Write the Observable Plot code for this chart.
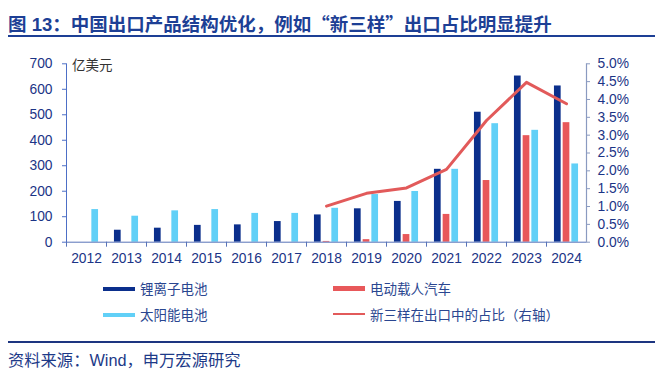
<!DOCTYPE html>
<html>
<head>
<meta charset="utf-8">
<script src="https://cdn.jsdelivr.net/npm/d3@7"></script>
<script src="https://cdn.jsdelivr.net/npm/@observablehq/plot@0.6"></script>
<style>
  html, body { margin: 0; padding: 0; background: #fff; }
  #wrap { position: relative; width: 660px; height: 385px; overflow: hidden; background: #fff;
          font-family: "Liberation Sans", "Noto Sans CJK SC", sans-serif; }
  #title { position: absolute; left: 8px; top: 12px; font-size: 18.5px; line-height: 22px; font-weight: bold;
           color: #1d3f95; font-family: "Liberation Sans", "Noto Sans CJK SC", sans-serif; white-space: nowrap; }
  #title .q { font-family: "Noto Sans CJK SC", sans-serif; }
  #rule1 { position: absolute; left: 8px; top: 35px; width: 647px; height: 2px; background: #1d3f95; }
  #rule2 { position: absolute; left: 8px; top: 341px; width: 647px; height: 1.5px; background: #1d3580; }
  #caption { position: absolute; left: 8px; top: 350px; font-size: 16.3px; line-height: 20px; color: #1d3a88; white-space: nowrap; }
  #chart { position: absolute; left: 0; top: 44px; }
  #unit { position: absolute; left: 72px; top: 55px; font-size: 13.5px; line-height: 18px; color: #333; font-family: "Noto Sans CJK SC", sans-serif; }
  .lg { position: absolute; font-size: 13.5px; line-height: 18px; color: #2a4690; font-family: "Noto Sans CJK SC", sans-serif; white-space: nowrap; }
  .sw { position: absolute; }
</style>
</head>
<body>
<div id="wrap">
  <div id="title">图 13：中国出口产品结构优化，例如<span class="q">“</span>新三样<span class="q">”</span>出口占比明显提升</div>
  <div id="rule1"></div>
  <div id="chart"></div>
  <div id="unit">亿美元</div>
  <div id="legend"></div>
  <div id="rule2"></div>
  <div id="caption">资料来源：Wind，申万宏源研究</div>
</div>
<script>
// ---- data ----
const years = ["2012","2013","2014","2015","2016","2017","2018","2019","2020","2021","2022","2023","2024"];
const liIon  = [null, 47, 55, 66, 68, 81, 107, 131, 160, 286, 510, 652, 613];   // 锂离子电池 (亿美元)
const evCars = [null, null, null, null, null, null, 3, 10, 30, 109, 242, 418, 469]; // 电动载人汽车
const solar  = [128, 102, 123, 128, 113, 113, 133, 187, 199, 286, 465, 439, 307]; // 太阳能电池
const shareYears = ["2018","2019","2020","2021","2022","2023","2024"];
const sharePct   = [1.01, 1.37, 1.52, 2.04, 3.41, 4.48, 3.88];                    // 新三样占比 (%)
const leftTicks  = [0, 100, 200, 300, 400, 500, 600, 700];
const rightTicks = [0, 0.5, 1.0, 1.5, 2.0, 2.5, 3.0, 3.5, 4.0, 4.5, 5.0];

const seriesNames = ["锂离子电池", "电动载人汽车", "太阳能电池", "新三样在出口中的占比（右轴）"];
const colors = { li: "#0b2f8c", ev: "#e8585a", solar: "#61d0f7", line: "#e25a5a" };

// ---- tables built from arrays ----
const rows = years.map((y, i) => ({ year: y, li: liIon[i], ev: evCars[i], solar: solar[i] }));
const shareRows = shareYears.map((y, i) => ({ year: y, share: sharePct[i] }));
const ratio = 700 / 5; // left axis 700 ↔ right axis 5.0%

const plot = Plot.plot({
  width: 660,
  height: 226,
  marginTop: 19.3,
  marginBottom: 28.3,
  marginLeft: 66,
  marginRight: 74,
  x: { type: "band", domain: years, padding: 0, axis: null },
  y: { domain: [0, 700], axis: null },
  style: { fontFamily: "'Liberation Sans', 'Noto Sans CJK SC', sans-serif", fontSize: "13.8px", color: "#1b3486", background: "transparent", overflow: "visible" },
  marks: [
    Plot.barY(rows.filter(d => d.li != null), { x: "year", y: "li", fill: colors.li, dx: -8.7, insetLeft: 16.65, insetRight: 16.65 }),
    Plot.barY(rows.filter(d => d.ev != null), { x: "year", y: "ev", fill: colors.ev, dx: 0, insetLeft: 16.65, insetRight: 16.65 }),
    Plot.barY(rows.filter(d => d.solar != null), { x: "year", y: "solar", fill: colors.solar, dx: 8.7, insetLeft: 16.65, insetRight: 16.65 }),
    Plot.lineY(shareRows, { x: "year", y: d => d.share * ratio, stroke: colors.line, strokeWidth: 3, strokeLinejoin: "round" }),
    Plot.ruleY([0], { stroke: "#5873b8", strokeWidth: 1 }),
    Plot.frame({ anchor: "left", stroke: "#4d6fc6", strokeWidth: 1 }),
    Plot.frame({ anchor: "right", stroke: "#8a9ac0", strokeWidth: 1.2 }),
    Plot.axisY({ anchor: "left", ticks: leftTicks, tickSize: 4, tickPadding: 10, stroke: "#4d6fc6", label: null }),
    Plot.axisY({ anchor: "right", ticks: rightTicks.map(v => v * ratio), tickFormat: v => (v / ratio).toFixed(1) + "%", tickSize: 3, tickPadding: 8, stroke: "#8a9ac0", label: null }),
    Plot.axisX({ ticks: years, tickSize: 5, tickFormat: () => "", dx: -20, stroke: "#5873b8", label: null }),
    Plot.axisX({ ticks: years, tickSize: 0, tickPadding: 11, label: null })
  ]
});
document.getElementById("chart").appendChild(plot);

// ---- legend (HTML) ----
const legendItems = [
  { name: seriesNames[0], color: colors.li,    x: 103, y: 288.5, h: 4 },
  { name: seriesNames[1], color: colors.ev,    x: 333, y: 288.5, h: 4.5 },
  { name: seriesNames[2], color: colors.solar, x: 103, y: 314.5, h: 4 },
  { name: seriesNames[3], color: colors.line,  x: 333, y: 314,   h: 2.5 }
];
const lg = document.getElementById("legend");
for (const it of legendItems) {
  const sw = document.createElement("div");
  sw.className = "sw";
  sw.style.cssText = `left:${it.x}px;top:${it.y - it.h / 2}px;width:32px;height:${it.h}px;background:${it.color}`;
  lg.appendChild(sw);
  const t = document.createElement("div");
  t.className = "lg";
  t.style.cssText = `left:${it.x + 37}px;top:${it.y - 9.5}px`;
  t.textContent = it.name;
  lg.appendChild(t);
}
</script>
</body>
</html>
